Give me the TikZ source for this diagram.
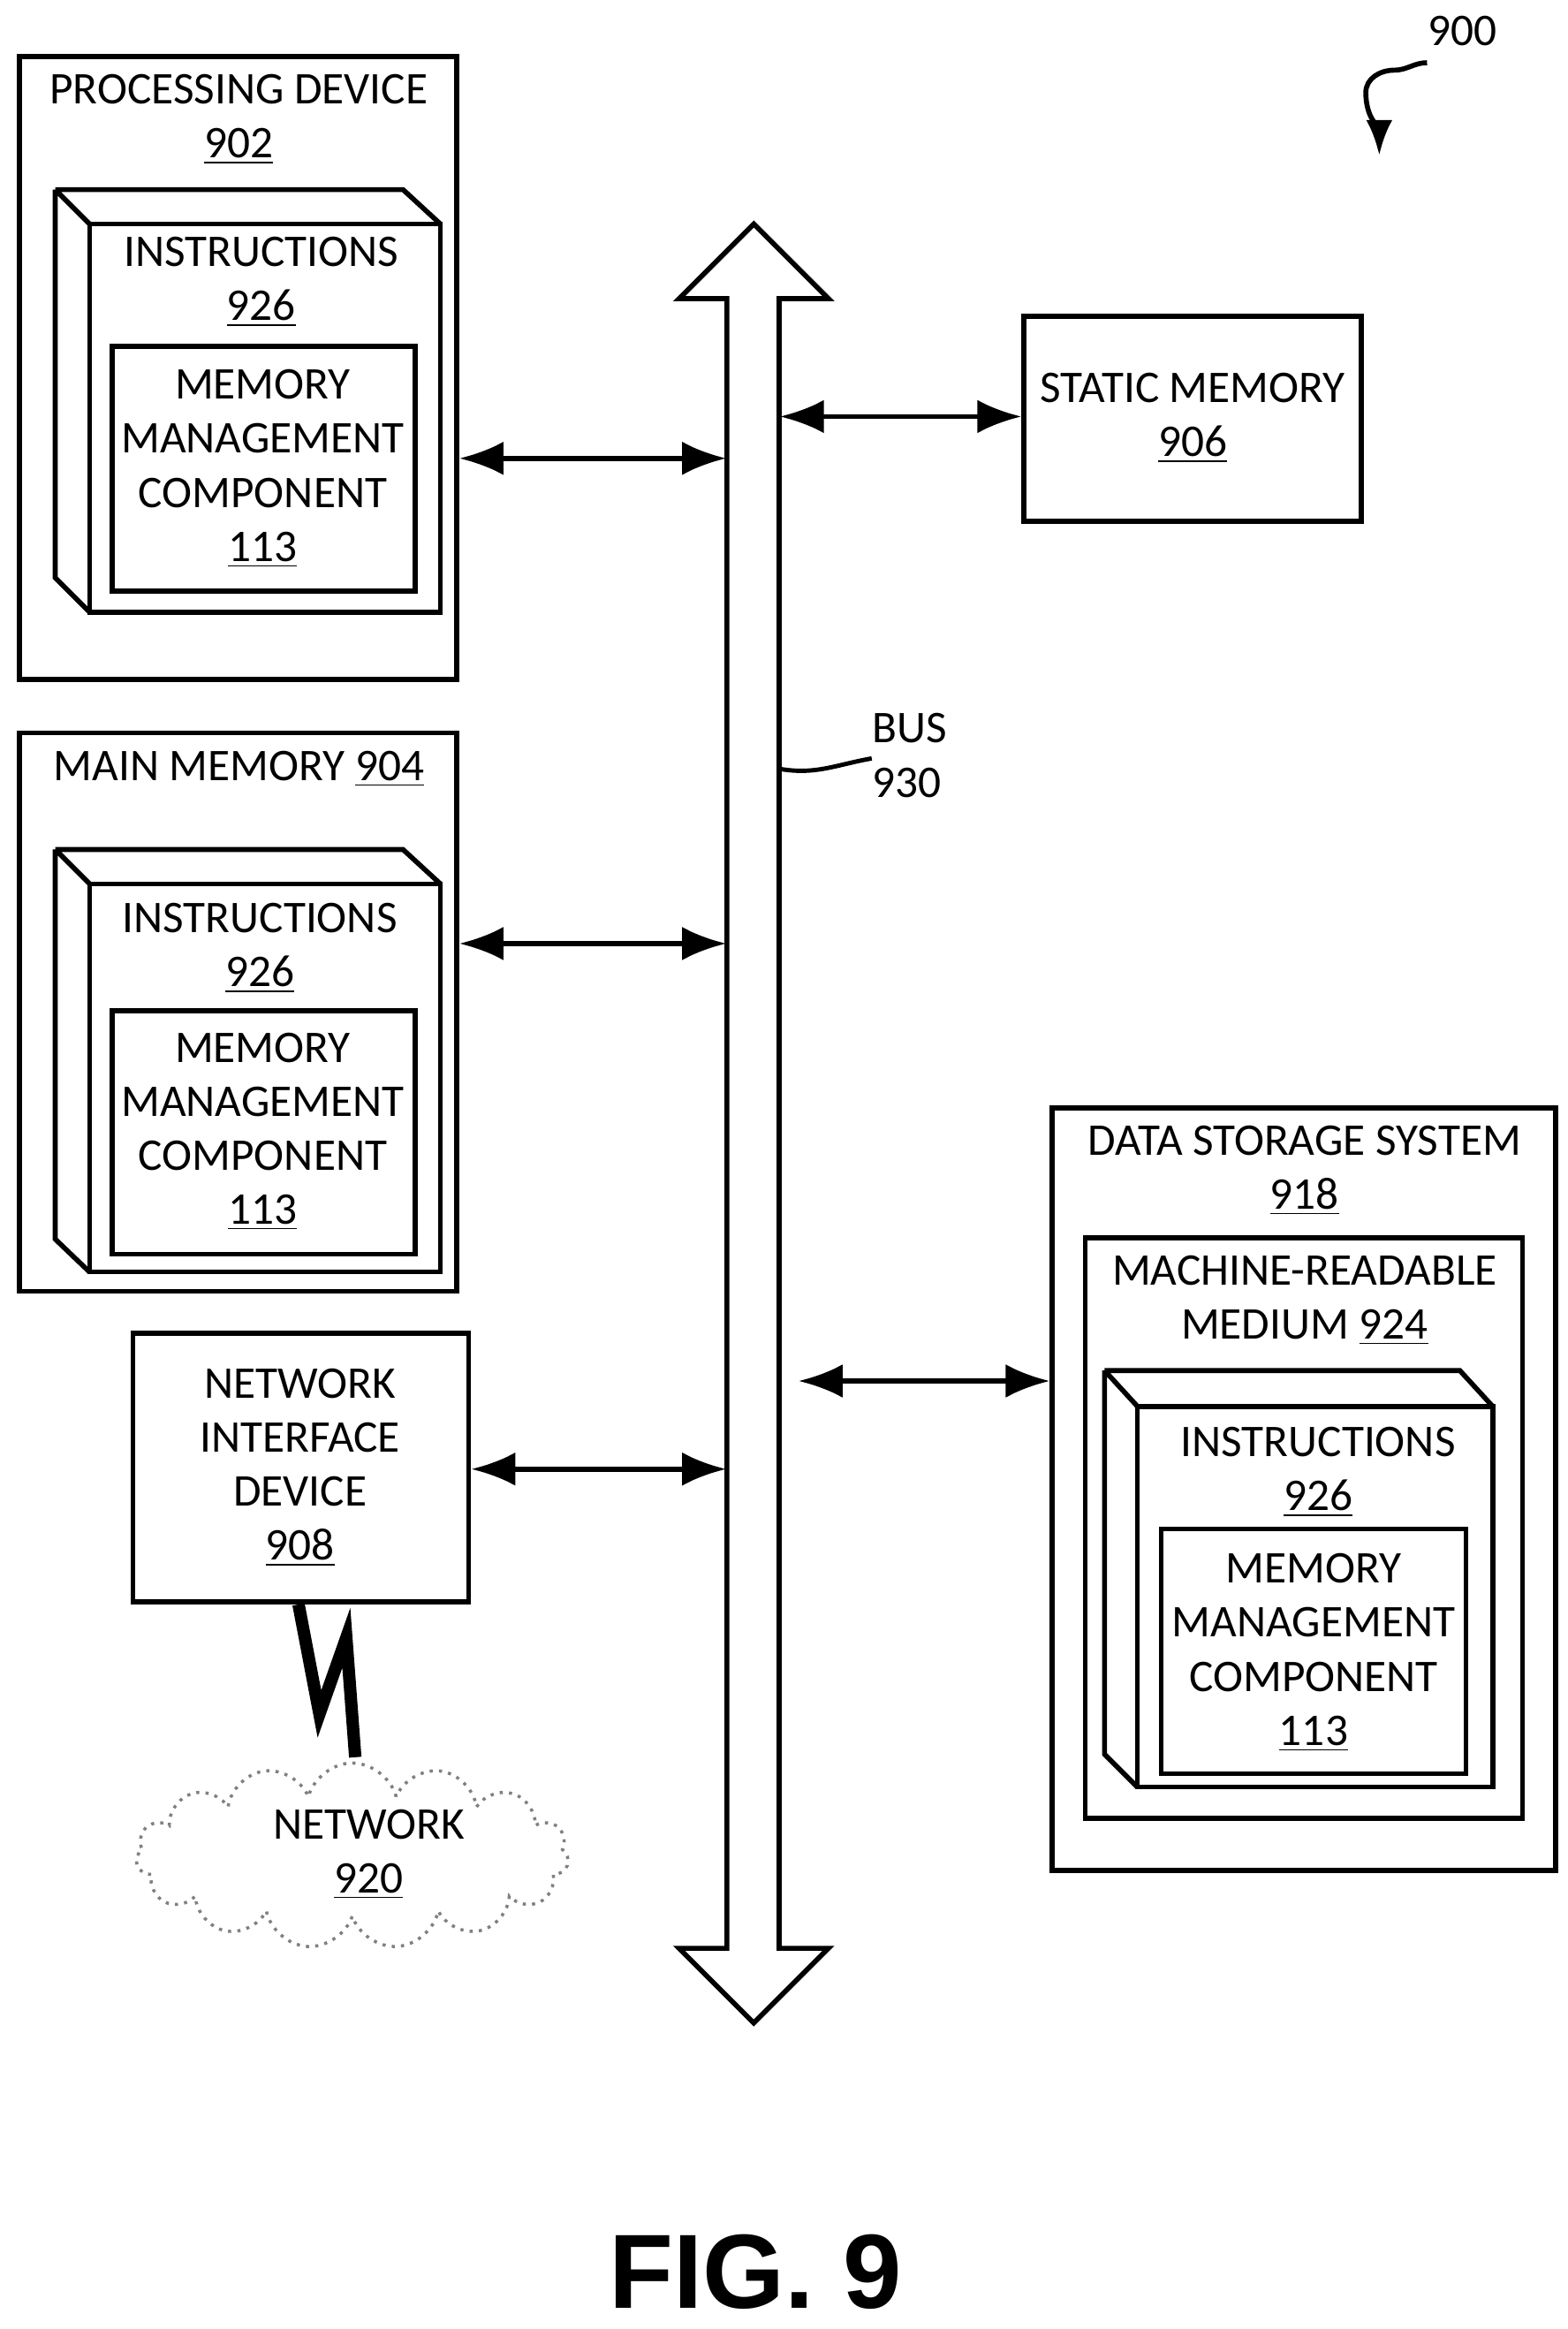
\documentclass[tikz,border=0pt]{standalone}
\usepackage{fontspec}
\setmainfont{Carlito}
\newfontfamily\figfont{Liberation Sans}
\usetikzlibrary{arrows.meta,fit,shapes.symbols}

\tikzset{
  box/.style={draw,line width=1.6pt,inner sep=0pt},
  txt/.style={align=center,font=\fontsize{14.6}{17.4}\selectfont,inner sep=0pt},
  dbl/.style={line width=1.6pt,{Latex[length=0.5cm,width=0.38cm]}-{Latex[length=0.5cm,width=0.38cm]}},
}

\begin{document}
\begin{tikzpicture}[x=0.016905cm,y=-0.016905cm]
        \useasboundingbox (0,0) rectangle (1050,1560);

        % bus
        \node[fit={(487,200)(522,1305)},inner sep=0pt] (bus) {};
        \draw[line width=1.6pt,fill=white] (487,200) -- (455,200) -- (505,150) -- (555,200) -- (522,200)
            -- (522,1305) -- (555,1305) -- (505,1355) -- (455,1305) -- (487,1305) -- cycle;
        \node[txt,align=left,anchor=west] (buslbl) at (584,506) {BUS\\930};
        \draw[line width=1.4pt] (bus.east |- 0,515) to[out=-10,in=190] (buslbl.west |- 0,508);

        % processing device
        \node[box,fit={(13,38)(306,455)}] (pd) {};
        \node[txt] (pdt) at (160,80) {PROCESSING DEVICE\\\underline{902}};
        \draw[box] (37,127) -- (270,127) -- (295,150) (37,127) -- (37,387) -- (60,410) (37,127) -- (60,150);
        \node[box,fit={(60,150)(295,410)}] (pdi) {};
        \node[txt] (pdit) at (175,189) {INSTRUCTIONS\\\underline{926}};
        \node[box,fit={(75,232)(278,396)}] (pdm) {};
        \node[txt] (pdmt) at (176,314) {MEMORY\\MANAGEMENT\\COMPONENT\\\underline{113}};

        % main memory
        \node[box,fit={(13,491)(306,865)}] (mm) {};
        \node[txt] (mmt) at (160,515) {MAIN MEMORY \underline{904}};
        \draw[box] (37,569) -- (270,569) -- (295,592) (37,569) -- (37,830) -- (60,852) (37,569) -- (60,592);
        \node[box,fit={(60,592)(295,852)}] (mmi) {};
        \node[txt] (mmit) at (174,635) {INSTRUCTIONS\\\underline{926}};
        \node[box,fit={(75,677)(278,840)}] (mmm) {};
        \node[txt] (mmmt) at (176,758) {MEMORY\\MANAGEMENT\\COMPONENT\\\underline{113}};

        % network interface device
        \node[box,fit={(89,893)(314,1073)}] (nid) {};
        \node[txt] (nidt) at (201,983) {NETWORK\\INTERFACE\\DEVICE\\\underline{908}};

        % network
        \node[cloud,cloud puffs=15,aspect=2.4,draw=gray,dotted,line width=1pt,
              minimum width=4.9cm,minimum height=2.1cm] (net) at (236,1243) {};
        \node[txt] (nett) at (247,1242) {NETWORK\\\underline{920}};
        \draw[line width=4pt,line join=miter] (nid.south -| 200,0) -- (214,1148) -- (232,1097) -- (238,1177);

        % static memory
        \node[box,fit={(686,212)(912,349)}] (sm) {};
        \node[txt] (smt) at (799,280) {STATIC MEMORY\\\underline{906}};

        % data storage system
        \node[box,fit={(705,742)(1042,1253)}] (dss) {};
        \node[txt] (dsst) at (874,784) {DATA STORAGE SYSTEM\\\underline{918}};
        \node[box,fit={(727,829)(1020,1218)}] (mrm) {};
        \node[txt] (mrmt) at (874,871) {MACHINE-READABLE\\MEDIUM \underline{924}};
        \draw[box] (740,918) -- (978,918) -- (1000,942) (740,918) -- (740,1175) -- (762,1197) (740,918) -- (762,942);
        \node[box,fit={(762,942)(1000,1197)}] (dssi) {};
        \node[txt] (dssit) at (883,986) {INSTRUCTIONS\\\underline{926}};
        \node[box,fit={(778,1024)(982,1188)}] (dssm) {};
        \node[txt] (dssmt) at (880,1107) {MEMORY\\MANAGEMENT\\COMPONENT\\\underline{113}};

        % connections to bus
        \draw[dbl] (pd.east |- 0,307) -- (bus.west |- 0,307);
        \draw[dbl] (mm.east |- 0,632) -- (bus.west |- 0,632);
        \draw[dbl] (nid.east |- 0,984) -- (bus.west |- 0,984);
        \draw[dbl] (bus.east |- 0,279) -- (sm.west |- 0,279);
        \draw[dbl] ([xshift=6]bus.east |- 0,925) -- (dss.west |- 0,925);

        % label
        \node[txt] (ref) at (980,21) {900};
        \coordinate (reftip) at (924,104);
        \draw[line width=1.6pt,-{Latex[length=0.4cm,width=0.3cm]}] (956,42) to[out=180,in=0] (934,47)
            to[out=180,in=90] (915,62) to[out=-90,in=90] (reftip);

        \node[font=\figfont\bfseries\fontsize{34}{38}\selectfont,inner sep=0pt] (fig) at (506,1522) {FIG. 9};
\end{tikzpicture}
\end{document}
